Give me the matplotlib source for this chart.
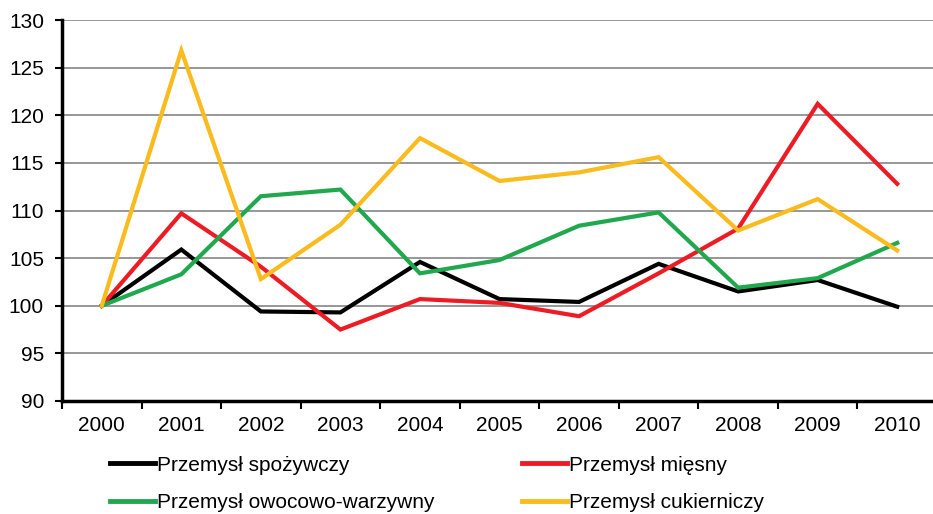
import numpy as np
import matplotlib.pyplot as plt

plt.rcParams['font.family'] = ['Liberation Sans', 'DejaVu Sans']

lata = ['2000', '2001', '2002', '2003', '2004', '2005', '2006', '2007', '2008', '2009', '2010']

spozywczy = [100, 105.9, 99.4, 99.3, 104.6, 100.7, 100.4, 104.4, 101.5, 102.7, 99.9]
miesny = [100, 109.7, 104.1, 97.5, 100.7, 100.3, 98.9, 103.4, 108.1, 121.2, 112.8]
owocowo_warzywny = [100, 103.3, 111.5, 112.2, 103.4, 104.8, 108.4, 109.8, 101.9, 102.9, 106.6]
cukierniczy = [100, 126.8, 102.8, 108.5, 117.6, 113.1, 114.0, 115.6, 107.9, 111.2, 105.8]

serie = [
    ('Przemysł spożywczy', spozywczy, '#000000'),
    ('Przemysł mięsny', miesny, '#ed1c24'),
    ('Przemysł owocowo-warzywny', owocowo_warzywny, '#21a84f'),
    ('Przemysł cukierniczy', cukierniczy, '#f9bb1d'),
]

fig = plt.figure(figsize=(9.33, 5.14), dpi=100)
ax = fig.add_axes([62 / 933, 1 - 401 / 514, 875 / 933, 381 / 514])

x = np.arange(len(lata))
uchwyty = []
for nazwa, wartosci, kolor in serie:
    h, = ax.plot(x, wartosci, color=kolor, lw=3, label=nazwa, solid_joinstyle='miter')
    uchwyty.append(h)

ax.set_xlim(-0.5, len(lata) - 0.5)
ax.set_ylim(90, 130)
ax.set_yticks(np.arange(90, 131, 5))
ax.yaxis.grid(True, color='#8f8f8f', lw=1.3)
ax.set_axisbelow(True)

# ticks na granicach kategorii, etykiety pośrodku
ax.set_xticks(np.arange(-0.5, len(lata) - 0.5, 1))
ax.set_xticklabels([])
ax.set_xticks(x, minor=True)
ax.set_xticklabels(lata, minor=True)
ax.tick_params(axis='x', which='major', length=6, width=1.5, direction='out')
ax.tick_params(axis='x', which='minor', length=0, pad=11, labelsize=15)
ax.tick_params(axis='y', length=5, width=1.5, direction='out', labelsize=15, pad=8)

for s in ['top', 'right']:
    ax.spines[s].set_visible(False)
for s in ['left', 'bottom']:
    ax.spines[s].set_linewidth(2.5)

# legenda wierszami: matplotlib wypełnia kolumnami, więc kolejność przestawiona
kolejnosc = [uchwyty[0], uchwyty[2], uchwyty[1], uchwyty[3]]
leg = fig.legend(handles=kolejnosc, ncol=2, loc='center left',
                 bbox_to_anchor=(110 / 933, 1 - 484 / 514), frameon=False,
                 borderpad=0, borderaxespad=0,
                 fontsize=15, handlelength=2.15, handletextpad=0.1,
                 columnspacing=4.2, labelspacing=0.9)
for linia in leg.get_lines():
    linia.set_linewidth(3.5)

fig.savefig('out.png', dpi=100)
